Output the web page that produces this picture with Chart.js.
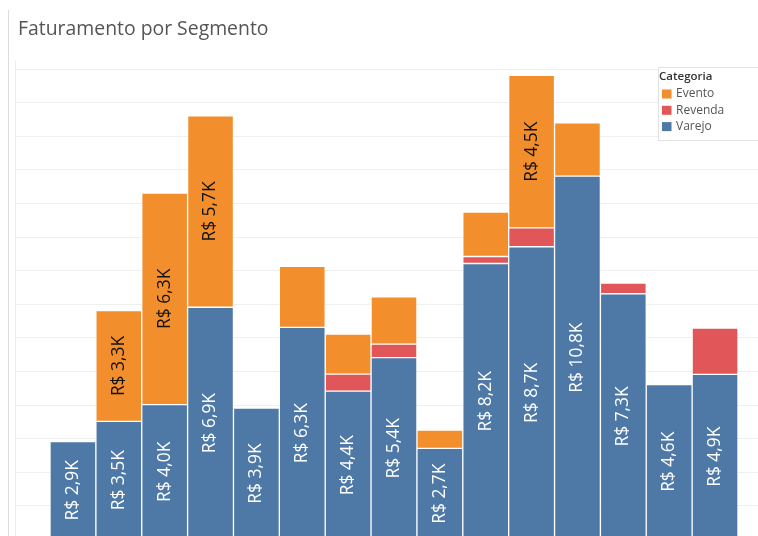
<!DOCTYPE html>
<html lang="pt-BR">
<head>
    <meta charset="UTF-8">
    <title>Faturamento por Segmento</title>
    <script src="https://cdn.jsdelivr.net/npm/chart.js@4.4.1/dist/chart.umd.min.js"></script>
    <style>
        html, body { margin:0; padding:0; background:#fff; overflow:hidden; }
        #board { width:758px; height:536px; }
    </style>
</head>
<body>
    <div id="board">
        <canvas id="chart1" width="758" height="536"></canvas>
    </div>
<script>
    // uma coluna por segmento (ordem do painel)
    const segmentos = ['S1','S2','S3','S4','S5','S6','S7','S8','S9','S10','S11','S12','S13','S14','S15'];
    // valores em R$
    const varejo  = [2900, 3500, 4000, 6900, 3900, 6300, 4400, 5400, 2700, 8200, 8700, 10800, 7300, 4600, 4900];
    const revenda = [null, null, null, null, null, null, 510, 400, null, 210, 560, null, 320, null, 1380];
    const evento  = [null, 3300, 6300, 5700, null, 1820, 1190, 1410, 540, 1320, 4540, 1590, null, null, null];
    const linhasGrade = [1000,2000,3000,4000,5000,6000,7000,8000,9000,10000,11000,12000,13000,14000];

    const cores = { Varejo:'#4e79a7', Revenda:'#e15759', Evento:'#f28e2b' };
    const fonte = '"Open Sans", "DejaVu Sans", sans-serif';

    function fmt(v){ return 'R$ ' + (v/1000).toFixed(1).replace('.', ',') + 'K'; }

    // titulo, linhas de grade e bordas da esquerda
    const fundo = {
        id:'fundo',
        beforeDatasetsDraw(chart){
            const ctx = chart.ctx, y = chart.scales.y;
            ctx.save();
            ctx.fillStyle = '#555';
            ctx.font = '19.4px ' + fonte;
            ctx.textBaseline = 'middle';
            ctx.fillText('Faturamento por Segmento', 18, 29);

            ctx.strokeStyle = '#dcdcdc';
            ctx.lineWidth = 1;
            ctx.beginPath(); ctx.moveTo(8.5, 10); ctx.lineTo(8.5, 536); ctx.stroke();
            ctx.strokeStyle = '#efefef';
            ctx.beginPath(); ctx.moveTo(15.5, 60); ctx.lineTo(15.5, 536); ctx.stroke();

            linhasGrade.forEach(v => {
                const py = Math.round(y.getPixelForValue(v)) + 0.5;
                ctx.beginPath(); ctx.moveTo(15, py); ctx.lineTo(758, py); ctx.stroke();
            });
            ctx.restore();
        }
    };

    // rotulos verticais dentro das barras
    const rotulos = {
        id:'rotulos',
        afterDatasetsDraw(chart){
            const ctx = chart.ctx;
            ctx.save();
            ctx.font = '17.4px ' + fonte;
            ctx.textAlign = 'center';
            ctx.textBaseline = 'middle';
            chart.data.datasets.forEach((ds, i) => {
                if (ds.label === 'Revenda') return;
                const meta = chart.getDatasetMeta(i);
                meta.data.forEach((bar, j) => {
                    const v = ds.data[j];
                    if (v == null) return;
                    const txt = fmt(v);
                    const h = Math.abs(bar.base - bar.y);
                    if (h < ctx.measureText(txt).width + 30) return;
                    ctx.save();
                    ctx.translate(bar.x, (bar.y + bar.base) / 2);
                    ctx.rotate(-Math.PI / 2);
                    ctx.fillStyle = ds.label === 'Varejo' ? '#fff' : '#111';
                    ctx.fillText(txt, 0, 0);
                    ctx.restore();
                });
            });
            ctx.restore();
        }
    };

    // legenda no canto superior direito
    const legenda = {
        id:'legenda',
        afterDraw(chart){
            const ctx = chart.ctx;
            ctx.save();
            ctx.fillStyle = '#fff';
            ctx.fillRect(658, 67, 100, 74);
            ctx.strokeStyle = '#e2e2e2';
            ctx.lineWidth = 1;
            ctx.strokeRect(658.5, 67.5, 110, 73);
            ctx.textBaseline = 'middle';
            ctx.fillStyle = '#333';
            ctx.font = '600 11.5px ' + fonte;
            ctx.fillText('Categoria', 659, 77);
            ctx.font = '12px ' + fonte;
            const itens = chart.data.datasets.slice().reverse();
            itens.forEach((ds, k) => {
                const cy = 94 + k * 16.3;
                ctx.fillStyle = ds.backgroundColor;
                ctx.fillRect(662, cy - 4.5, 9.5, 9);
                ctx.fillStyle = '#555';
                ctx.fillText(ds.label, 676, cy);
            });
            ctx.restore();
        }
    };

    const ctx = document.getElementById('chart1').getContext('2d');
    new Chart(ctx, {
        type:'bar',
        data:{
            labels: segmentos,
            datasets:[
                { label:'Varejo',  data:varejo,  backgroundColor:cores.Varejo },
                { label:'Revenda', data:revenda, backgroundColor:cores.Revenda },
                { label:'Evento',  data:evento,  backgroundColor:cores.Evento }
            ]
        },
        options:{
            responsive:false,
            animation:false,
            layout:{ padding:{ left:50, right:20, top:66, bottom:0 } },
            datasets:{
                bar:{
                    categoryPercentage:1,
                    barPercentage:1,
                    borderWidth:1,
                    borderColor:'rgba(255,255,255,0.7)',
                    borderSkipped:false
                }
            },
            scales:{
                x:{ stacked:true, display:false },
                y:{ stacked:true, display:false, min:90, max:14080 }
            },
            plugins:{
                legend:{ display:false },
                tooltip:{ enabled:false }
            }
        },
        plugins:[fundo, rotulos, legenda]
    });
</script>
</body>
</html>
